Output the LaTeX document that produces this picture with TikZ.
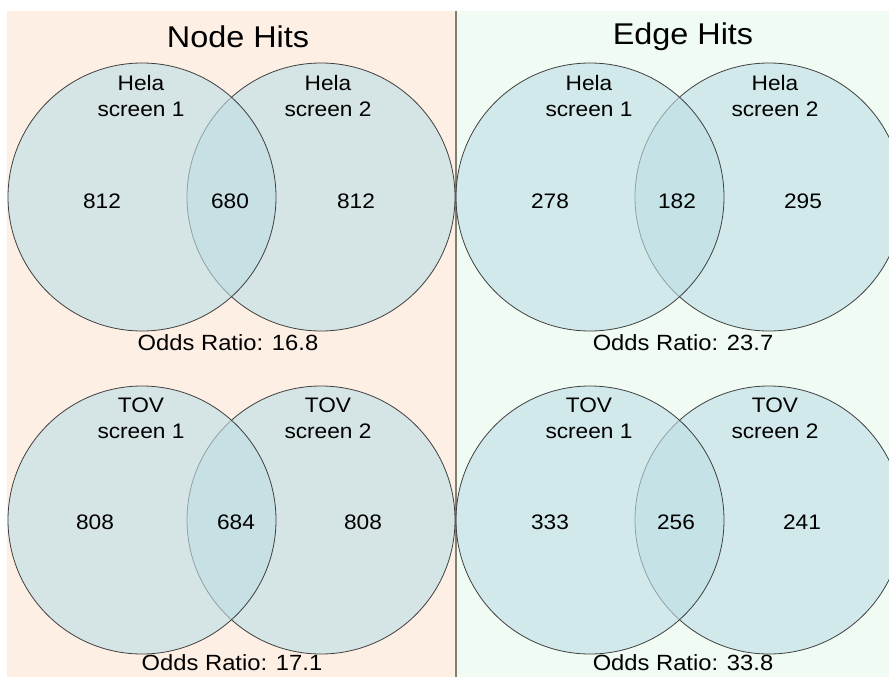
\documentclass[tikz,border=0pt]{standalone}
\usepackage{fontspec}
\setmainfont[FakeStretch=1.08]{Liberation Sans}
\definecolor{peach}{RGB}{253,239,227}
\definecolor{mint}{RGB}{240,252,243}
\definecolor{vennfill}{RGB}{190,222,229}
\definecolor{vennline}{RGB}{64,64,64}
\definecolor{divcol}{RGB}{128,128,112}
\tikzset{
  venn/.style={circle, minimum size=268pt, inner sep=0pt, fill=vennfill, fill opacity=0.62, draw=vennline, draw opacity=1, line width=0.8pt},
  title/.style={font=\fontsize{30}{32}\selectfont, inner sep=0pt},
  lbl/.style={font=\fontsize{21}{26}\selectfont, align=center, inner sep=0pt},
  num/.style={font=\fontsize{21}{24}\selectfont, inner sep=0pt},
  odds/.style={font=\fontsize{22}{24}\selectfont, inner sep=0pt},
}
\begin{document}
\begin{tikzpicture}[x=1pt,y=-1pt]
\useasboundingbox (0,0) rectangle (889,677);
\clip (0,0) rectangle (889,677);
\fill[white] (0,0) rectangle (889,677);
\fill[peach] (7,11) rectangle (456,677);
\fill[mint] (456,11) rectangle (889,677);
\draw[divcol, line width=1.4pt] (456,11) -- (456,677);

% titles
\node[title] (t1) at (238,37) {Node Hits};
\node[title] (t2) at (683,37) {Edge Hits};

% top-left
\node[venn] (a2) at (321,197) {};
\node[venn] (a1) at (142,197) {};
% top-right
\node[venn] (b2) at (769,197) {};
\node[venn] (b1) at (590,197) {};
% bottom-left
\node[venn] (c2) at (321,520) {};
\node[venn] (c1) at (142,520) {};
% bottom-right
\node[venn] (d2) at (769,520) {};
\node[venn] (d1) at (590,520) {};

% top-left labels
\node[lbl] (a1l) at (141,96) {Hela\\screen 1};
\node[lbl] (a2l) at (328,96) {Hela\\screen 2};
\node[num] (a1n) at (102,201) {812};
\node[num] (a12n) at (230,201) {680};
\node[num] (a2n) at (356,201) {812};
\node[odds] (ao) at (228,343) {Odds Ratio: 16.8};

% top-right labels
\node[lbl] (b1l) at (589,96) {Hela\\screen 1};
\node[lbl] (b2l) at (775,96) {Hela\\screen 2};
\node[num] (b1n) at (550,201) {278};
\node[num] (b12n) at (677,201) {182};
\node[num] (b2n) at (803,201) {295};
\node[odds] (bo) at (683,343) {Odds Ratio: 23.7};

% bottom-left labels
\node[lbl] (c1l) at (141,418) {TOV\\screen 1};
\node[lbl] (c2l) at (328,418) {TOV\\screen 2};
\node[num] (c1n) at (95,522) {808};
\node[num] (c12n) at (236,522) {684};
\node[num] (c2n) at (363,522) {808};
\node[odds] (co) at (232,663) {Odds Ratio: 17.1};

% bottom-right labels
\node[lbl] (d1l) at (589,418) {TOV\\screen 1};
\node[lbl] (d2l) at (775,418) {TOV\\screen 2};
\node[num] (d1n) at (550,522) {333};
\node[num] (d12n) at (676,522) {256};
\node[num] (d2n) at (802,522) {241};
\node[odds] (do) at (683,663) {Odds Ratio: 33.8};
\end{tikzpicture}
\end{document}
